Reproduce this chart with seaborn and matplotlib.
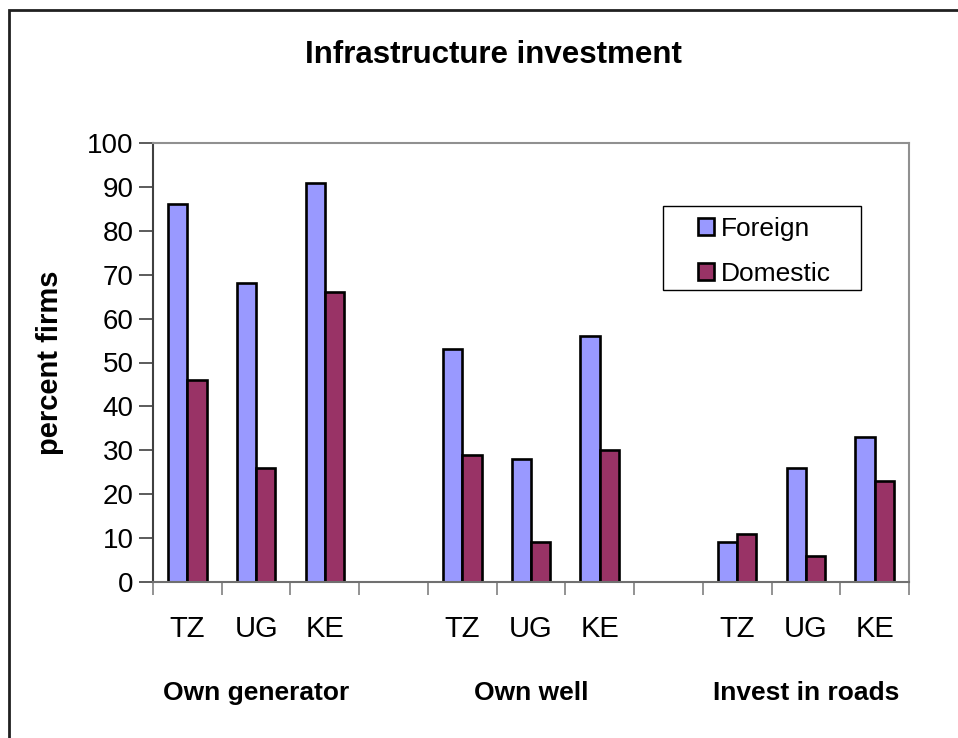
import numpy as np
import pandas as pd
import matplotlib
matplotlib.use("Agg")
import matplotlib.pyplot as plt
from matplotlib.patches import Rectangle
import seaborn as sns

# ---- data ----
groups = ["Own generator", "Own well", "Invest in roads"]
countries = ["TZ", "UG", "KE"]
foreign = [86, 68, 91, 53, 28, 56, 9, 26, 33]
domestic = [46, 26, 66, 29, 9, 30, 11, 6, 23]
series = ["Foreign", "Domestic"]
colors = {"Foreign": "#9999FF", "Domestic": "#993366"}
yticks = list(range(0, 101, 10))
title = "Infrastructure investment"
ylabel = "percent firms"

# ---- build table ----
keys, labels, rows = [], [], []
i = 0
for gi, g in enumerate(groups):
    for c in countries:
        k = f"{g}|{c}"
        keys.append(k)
        labels.append(c)
        rows.append({"key": k, "series": "Foreign", "value": foreign[i]})
        rows.append({"key": k, "series": "Domestic", "value": domestic[i]})
        i += 1
    if gi < len(groups) - 1:
        keys.append(f"gap{gi}")
        labels.append("")
df = pd.DataFrame(rows)

sns.set_theme(style="white")
plt.rcParams["font.family"] = ["Liberation Sans", "DejaVu Sans"]
plt.rcParams["text.color"] = "black"
plt.rcParams["axes.labelcolor"] = "black"
plt.rcParams["xtick.color"] = "black"
plt.rcParams["ytick.color"] = "black"

W, H = 958, 738
fig = plt.figure(figsize=(W / 100, H / 100), dpi=100)
ax = fig.add_axes([153 / W, 1 - 582 / H, (909 - 153) / W, (582 - 143) / H])

sns.barplot(data=df, x="key", y="value", hue="series", order=keys,
            hue_order=series, palette=colors, width=0.56, dodge=True,
            edgecolor="black", linewidth=1.9, errorbar=None, saturation=1,
            ax=ax)

ax.set_xlim(-0.5, len(keys) - 0.5)
ax.set_ylim(0, 100)
ax.set_yticks(yticks)
ax.set_yticklabels([str(t) for t in yticks], fontsize=20)
ax.tick_params(axis="y", direction="out", length=10, width=1.2,
               color="#404040", labelcolor="black", pad=4, left=True)

ax.set_xticks(range(len(keys)))
ax.set_xticklabels(labels, fontsize=21)
ax.tick_params(axis="x", which="major", length=0, pad=24, labelcolor="black")
ax.set_xticks(np.arange(-0.5, len(keys), 1.0), minor=True)
ax.tick_params(axis="x", which="minor", direction="out", length=9,
               width=1.2, color="#808080", bottom=True)

for s in ["top", "right"]:
    ax.spines[s].set_color("#909090")
    ax.spines[s].set_linewidth(1.5)
ax.spines["left"].set_color("#404040")
ax.spines["left"].set_linewidth(1.5)
ax.spines["bottom"].set_color("#707070")
ax.spines["bottom"].set_linewidth(1.5)

ax.set_xlabel("")
ax.set_ylabel(ylabel, fontsize=21, fontweight="bold", color="black")
ax.yaxis.set_label_coords(-0.118, 0.5)

# group labels under category centres
for gi, g in enumerate(groups):
    idx = [keys.index(f"{g}|{c}") for c in countries]
    ax.text(np.mean(idx), -0.253, g, transform=ax.get_xaxis_transform(),
            ha="center", va="center", fontsize=19, fontweight="bold",
            color="black")

fig.text(493 / W, 1 - 55 / H, title, ha="center", va="center",
         fontsize=22.5, fontweight="bold", color="black")

# legend
handles, lbls = ax.get_legend_handles_labels()
leg = ax.legend(handles, lbls, loc="upper left", frameon=False,
                bbox_to_anchor=(698 / W, 1 - 217 / H), bbox_transform=fig.transFigure,
                fontsize=19, handlelength=0.62, handleheight=0.62,
                handletextpad=0.25, labelspacing=0.8, borderpad=0, borderaxespad=0)
for t in leg.get_texts():
    t.set_color("black")
fig.patches.append(Rectangle((663 / W, 1 - 290 / H), (861 - 663) / W, (290 - 206) / H,
                             transform=fig.transFigure, fill=False,
                             edgecolor="black", linewidth=1.0))

# outer chart border
fig.patches.append(Rectangle((9 / W, -0.05), 1.1, 1 - 10 / H + 0.05,
                             transform=fig.transFigure, fill=False,
                             edgecolor="#202020", linewidth=2.0))

fig.savefig("out.png", dpi=100, facecolor="white")
